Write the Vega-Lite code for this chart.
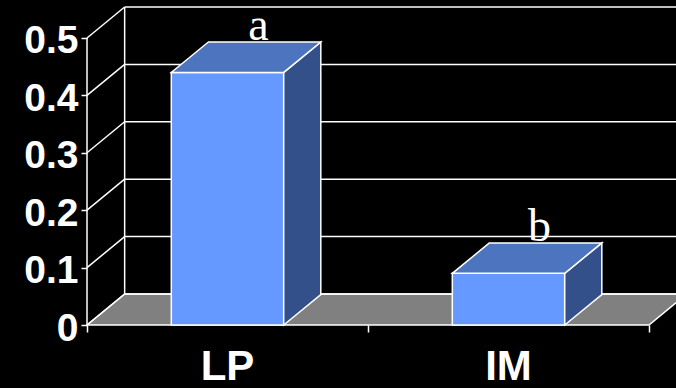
{
  "$schema": "https://vega.github.io/schema/vega-lite/v6.json",
  "width": 589,
  "height": 316,
  "autosize": "none",
  "padding": {"left": 87, "top": 9, "right": 0, "bottom": 63},
  "background": "black",
  "config": {"view": {"stroke": null}},
  "datasets": {
    "bars": [
      {"group": "LP", "value": 0.44, "label": "a"},
      {"group": "IM", "value": 0.09, "label": "b"}
    ],
    "ticks": [{"v": 0}, {"v": 0.1}, {"v": 0.2}, {"v": 0.3}, {"v": 0.4}, {"v": 0.5}],
    "edges": [{"k": 0}, {"k": 1}],
    "one": [{}]
  },
  "layer": [
    {
      "data": {"name": "edges"},
      "transform": [
        {"calculate": "datum.k * 0.054", "as": "fy"},
        {"calculate": "datum.k * 0.134", "as": "fx"},
        {"calculate": "2 + datum.k * 0.134", "as": "fx2"}
      ],
      "mark": {"type": "area", "orient": "horizontal", "fill": "#808080", "stroke": "white", "strokeWidth": 1.5},
      "encoding": {
        "y": {"field": "fy", "type": "quantitative", "scale": {"domain": [0, 0.5505], "nice": false, "zero": false},
          "axis": {"values": [0, 0.1, 0.2, 0.3, 0.4, 0.5], "grid": false, "domain": false, "title": null, "tickColor": "white", "tickSize": 6, "tickWidth": 1.5,
            "labelColor": "white", "labelFont": "Liberation Sans", "labelFontWeight": "bold", "labelFontSize": 39, "labelPadding": 3, "labelOffset": 3,
            "labelExpr": "datum.value == 0 ? '0' : format(datum.value, '.1f')"}},
        "x": {"field": "fx", "type": "quantitative", "scale": {"domain": [0, 2.096], "nice": false, "zero": false},
          "axis": {"values": [0, 1, 2], "grid": false, "domain": false, "labels": false, "title": null, "tickColor": "white", "tickSize": 7, "tickWidth": 1.5}},
        "x2": {"field": "fx2"}
      }
    },
    {
      "data": {"name": "ticks"},
      "transform": [{"calculate": "datum.v + 0.054", "as": "vb"}],
      "mark": {"type": "rule", "color": "white", "strokeWidth": 1.5},
      "encoding": {
        "y": {"field": "vb", "type": "quantitative"},
        "x": {"datum": 0.134, "type": "quantitative"},
        "x2": {"datum": 2.096}
      }
    },
    {
      "data": {"name": "ticks"},
      "transform": [{"calculate": "datum.v + 0.054", "as": "vb"}],
      "mark": {"type": "rule", "color": "white", "strokeWidth": 1.5},
      "encoding": {
        "y": {"field": "v", "type": "quantitative"},
        "y2": {"field": "vb"},
        "x": {"datum": 0, "type": "quantitative"},
        "x2": {"datum": 0.134}
      }
    },
    {
      "data": {"name": "one"},
      "mark": {"type": "rule", "color": "white", "strokeWidth": 1.5},
      "encoding": {
        "x": {"datum": 0.134, "type": "quantitative"},
        "y": {"datum": 0.054, "type": "quantitative"},
        "y2": {"datum": 0.554}
      }
    },
    {
      "data": {"name": "one"},
      "mark": {"type": "rule", "color": "white", "strokeWidth": 1.5},
      "encoding": {
        "x": {"datum": 0, "type": "quantitative"},
        "y": {"datum": 0, "type": "quantitative"},
        "y2": {"datum": 0.5}
      }
    },
    {
      "data": {"name": "bars"},
      "transform": [
        {"window": [{"op": "row_number", "as": "rn"}]},
        {"calculate": "datum.rn - 1 + 0.3", "as": "x0"},
        {"calculate": "datum.rn - 1 + 0.7", "as": "x1"}
      ],
      "mark": {"type": "rect", "fill": "#6699FF", "stroke": "white", "strokeWidth": 1.5},
      "encoding": {
        "x": {"field": "x0", "type": "quantitative"},
        "x2": {"field": "x1"},
        "y": {"field": "value", "type": "quantitative"},
        "y2": {"datum": 0}
      }
    },
    {
      "data": {"name": "bars"},
      "transform": [
        {"window": [{"op": "row_number", "as": "rn"}]},
        {"calculate": "0", "as": "k0"},
        {"calculate": "1", "as": "k1"},
        {"fold": ["k0", "k1"], "as": ["kk", "k"]},
        {"calculate": "datum.rn - 1 + 0.7 + datum.k * 0.132", "as": "sx"},
        {"calculate": "datum.value + datum.k * 0.053", "as": "sy"},
        {"calculate": "datum.k * 0.053", "as": "sy2"}
      ],
      "mark": {"type": "area", "orient": "vertical", "fill": "#34508A", "stroke": "white", "strokeWidth": 1.5},
      "encoding": {
        "x": {"field": "sx", "type": "quantitative"},
        "y": {"field": "sy", "type": "quantitative"},
        "y2": {"field": "sy2"},
        "detail": {"field": "group"}
      }
    },
    {
      "data": {"name": "bars"},
      "transform": [
        {"window": [{"op": "row_number", "as": "rn"}]},
        {"calculate": "0", "as": "k0"},
        {"calculate": "1", "as": "k1"},
        {"fold": ["k0", "k1"], "as": ["kk", "k"]},
        {"calculate": "datum.rn - 1 + 0.3 + datum.k * 0.132", "as": "tx"},
        {"calculate": "datum.rn - 1 + 0.7 + datum.k * 0.132", "as": "tx2"},
        {"calculate": "datum.value + datum.k * 0.053", "as": "ty"}
      ],
      "mark": {"type": "area", "orient": "horizontal", "fill": "#4D74BE", "stroke": "white", "strokeWidth": 1.5},
      "encoding": {
        "y": {"field": "ty", "type": "quantitative"},
        "x": {"field": "tx", "type": "quantitative"},
        "x2": {"field": "tx2"},
        "detail": {"field": "group"}
      }
    },
    {
      "data": {"name": "bars"},
      "transform": [
        {"window": [{"op": "row_number", "as": "rn"}]},
        {"calculate": "datum.rn - 1 + 0.61", "as": "lx"},
        {"calculate": "datum.value + 0.053", "as": "ly"}
      ],
      "mark": {"type": "text", "color": "white", "font": "Liberation Serif", "fontSize": 46, "baseline": "alphabetic", "align": "center", "dy": -2},
      "encoding": {
        "x": {"field": "lx", "type": "quantitative"},
        "y": {"field": "ly", "type": "quantitative"},
        "text": {"field": "label"}
      }
    },
    {
      "data": {"name": "bars"},
      "transform": [
        {"window": [{"op": "row_number", "as": "rn"}]},
        {"calculate": "datum.rn - 1 + 0.5", "as": "cx"}
      ],
      "mark": {"type": "text", "color": "white", "font": "Liberation Sans", "fontWeight": "bold", "fontSize": 42, "baseline": "alphabetic", "align": "center", "dy": 55},
      "encoding": {
        "x": {"field": "cx", "type": "quantitative"},
        "y": {"datum": 0, "type": "quantitative"},
        "text": {"field": "group"}
      }
    }
  ]
}
